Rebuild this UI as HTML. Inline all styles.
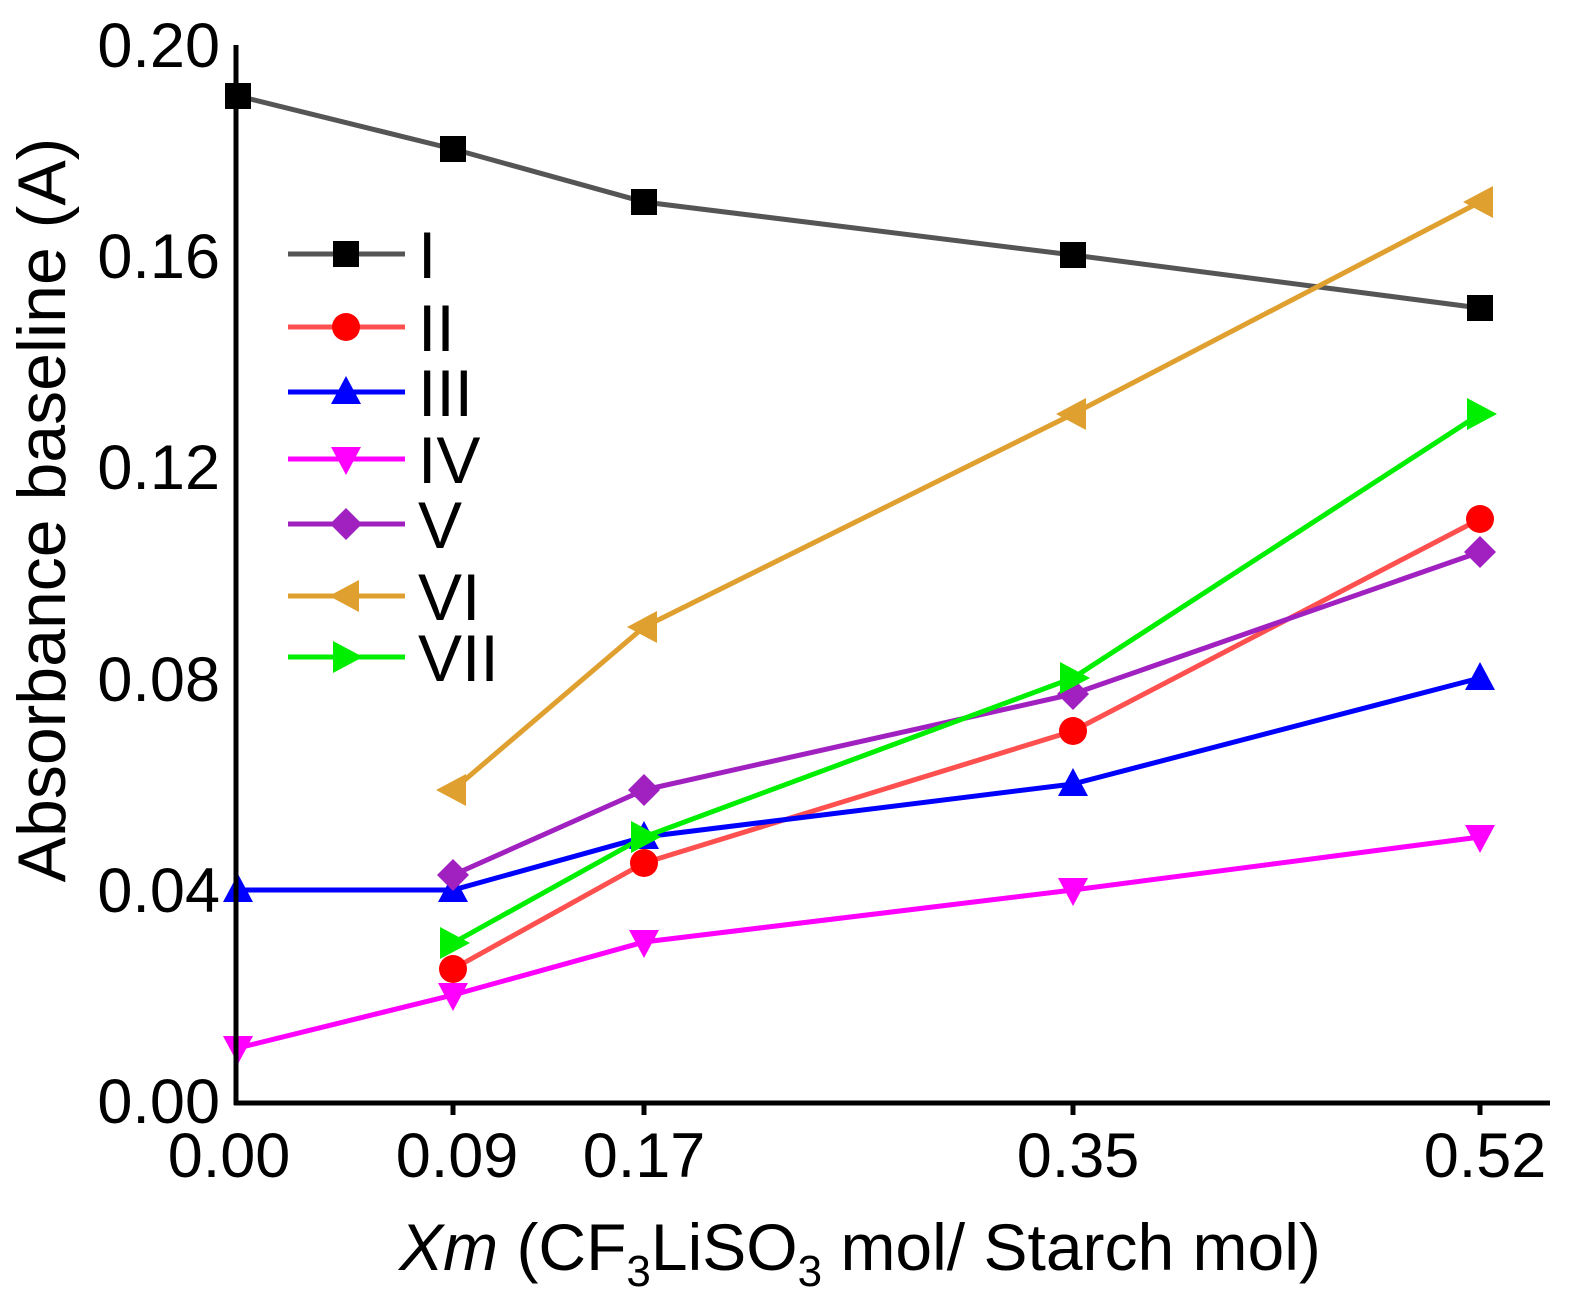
<!DOCTYPE html>
<html><head><meta charset="utf-8"><style>body{margin:0;background:#fff}svg{display:block}text{font-family:"Liberation Sans",sans-serif;fill:#000}</style></head><body>
<svg width="1571" height="1306" viewBox="0 0 1571 1306" xmlns="http://www.w3.org/2000/svg">
<defs>
<rect id="sq" x="-13" y="-13" width="26" height="26"/>
<circle id="ci" r="14"/>
<polygon id="tu" points="0,-16 15,12 -15,12"/>
<polygon id="td" points="0,16 15,-12 -15,-12"/>
<polygon id="di" points="0,-16 16,0 0,16 -16,0"/>
<polygon id="tl" points="-17,0 13,-16 13,16"/>
<polygon id="tr" points="17,0 -13,-16 -13,16"/>
</defs>
<g stroke-width="5" fill="none" stroke-linejoin="round">
<polyline stroke="#555" points="238,96 453,149 644,202 1073,255 1480,308"/>
<polyline stroke="#ff5050" points="453,969 644,863 1073,731 1480,519"/>
<polyline stroke="#0000ff" points="238,890 453,890 644,837 1073,784 1480,678"/>
<polyline stroke="#ff00ff" points="238,1048 453,995 644,942 1073,890 1480,837"/>
<polyline stroke="#a020c0" points="453,875 644,790 1073,694 1480,552"/>
<polyline stroke="#e0a030" points="453,790 644,627 1073,414 1480,202"/>
<polyline stroke="#00ee00" points="453,943 644,837 1073,678 1480,414"/>
</g>
<g fill="#000"><use href="#sq" x="238" y="96"/><use href="#sq" x="453" y="149"/><use href="#sq" x="644" y="202"/><use href="#sq" x="1073" y="255"/><use href="#sq" x="1480" y="308"/></g>
<g fill="#ff0000"><use href="#ci" x="453" y="969"/><use href="#ci" x="644" y="863"/><use href="#ci" x="1073" y="731"/><use href="#ci" x="1480" y="519"/></g>
<g fill="#0000ff"><use href="#tu" x="238" y="890"/><use href="#tu" x="453" y="890"/><use href="#tu" x="644" y="837"/><use href="#tu" x="1073" y="784"/><use href="#tu" x="1480" y="678"/></g>
<g fill="#ff00ff"><use href="#td" x="238" y="1048"/><use href="#td" x="453" y="995"/><use href="#td" x="644" y="942"/><use href="#td" x="1073" y="890"/><use href="#td" x="1480" y="837"/></g>
<g fill="#a020c0"><use href="#di" x="453" y="875"/><use href="#di" x="644" y="790"/><use href="#di" x="1073" y="694"/><use href="#di" x="1480" y="552"/></g>
<g fill="#e0a030"><use href="#tl" x="453" y="790"/><use href="#tl" x="644" y="627"/><use href="#tl" x="1073" y="414"/><use href="#tl" x="1480" y="202"/></g>
<g fill="#00ee00"><use href="#tr" x="453" y="943"/><use href="#tr" x="644" y="837"/><use href="#tr" x="1073" y="678"/><use href="#tr" x="1480" y="414"/></g>
<g stroke="#000" stroke-width="5">
<line x1="236" y1="45" x2="236" y2="1105"/><line x1="234" y1="1103" x2="1550" y2="1103"/>
<line x1="453" y1="1103" x2="453" y2="1115"/><line x1="644" y1="1103" x2="644" y2="1115"/><line x1="1073" y1="1103" x2="1073" y2="1115"/><line x1="1480" y1="1103" x2="1480" y2="1115"/>
</g>
<g font-size="63" text-anchor="end">
<text x="220" y="67">0.20</text><text x="220" y="278">0.16</text><text x="220" y="489">0.12</text><text x="220" y="701">0.08</text><text x="220" y="912">0.04</text><text x="220" y="1123">0.00</text>
</g>
<g font-size="63" text-anchor="middle">
<text x="229" y="1177">0.00</text><text x="457" y="1177">0.09</text><text x="644" y="1177">0.17</text><text x="1078" y="1177">0.35</text><text x="1485" y="1177">0.52</text>
</g>
<text x="860" y="1270" font-size="66" text-anchor="middle"><tspan font-style="italic">Xm</tspan> (CF<tspan font-size="44" dy="16">3</tspan><tspan dy="-16">LiSO</tspan><tspan font-size="44" dy="16">3</tspan><tspan dy="-16"> mol/ Starch mol)</tspan></text>
<text transform="translate(65,510) rotate(-90)" font-size="68" text-anchor="middle">Absorbance baseline (A)</text>
<g stroke-width="5">
<line x1="288" y1="254" x2="405" y2="254" stroke="#555"/><line x1="288" y1="327" x2="405" y2="327" stroke="#ff5050"/><line x1="288" y1="392" x2="405" y2="392" stroke="#0000ff"/><line x1="288" y1="459" x2="405" y2="459" stroke="#ff00ff"/><line x1="288" y1="524" x2="405" y2="524" stroke="#a020c0"/><line x1="288" y1="596" x2="405" y2="596" stroke="#e0a030"/><line x1="288" y1="657" x2="405" y2="657" stroke="#00ee00"/>
</g>
<use href="#sq" x="346" y="254" fill="#000"/><use href="#ci" x="346" y="327" fill="#f00"/><use href="#tu" x="346" y="392" fill="#00f"/><use href="#td" x="346" y="459" fill="#f0f"/><use href="#di" x="346" y="524" fill="#a020c0"/><use href="#tl" x="346" y="596" fill="#e0a030"/><use href="#tr" x="346" y="657" fill="#00ee00"/>
<g font-size="66">
<text x="418" y="278">I</text><text x="418" y="351">II</text><text x="418" y="416">III</text><text x="418" y="483">IV</text><text x="418" y="548">V</text><text x="418" y="620">VI</text><text x="418" y="681">VII</text>
</g>
</svg>
</body></html>
